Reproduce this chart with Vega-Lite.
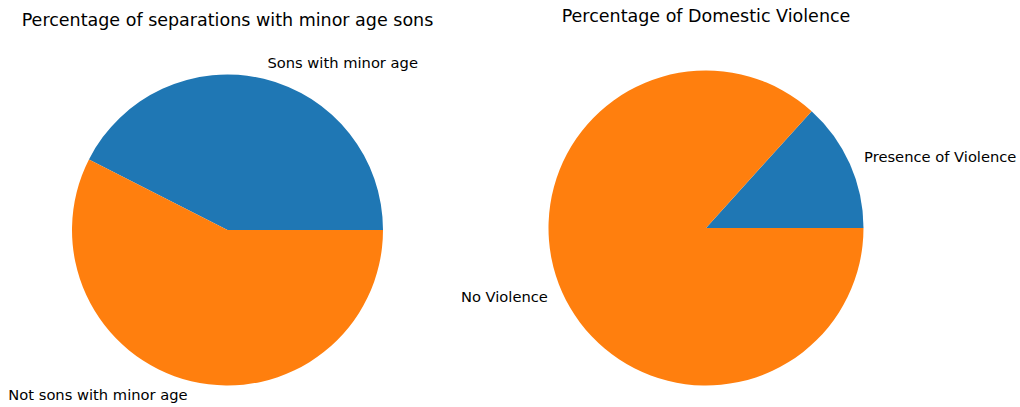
{
  "$schema": "https://vega.github.io/schema/vega-lite/v6.json",
  "autosize": {"type": "pad"},
  "padding": {"left": 8, "top": 7.5, "right": 3, "bottom": 3},
  "bounds": "flush",
  "spacing": 165.5,
  "config": {
    "view": {"stroke": null},
    "font": "DejaVu Sans",
    "title": {"fontSize": 17.5, "fontWeight": "normal", "color": "#000000", "baseline": "alphabetic", "font": "DejaVu Sans"},
    "text": {"font": "DejaVu Sans"}
  },
  "hconcat": [
    {
      "title": {"text": "Percentage of separations with minor age sons", "offset": 26},
      "width": 311,
      "height": 319,
      "data": {"values": [
        {"label": "Sons with minor age", "pct": 42.5, "side": "right", "ord": 2},
        {"label": "Not sons with minor age", "pct": 57.5, "side": "left", "ord": 1}
      ]},
      "encoding": {
        "theta": {"field": "pct", "type": "quantitative", "stack": true, "scale": {"range": [1.5707963, 7.8539816]}},
        "order": {"field": "ord", "type": "quantitative"}
      },
      "layer": [
        {"mark": {"type": "arc", "outerRadius": 155.5},
         "encoding": {"color": {"field": "side", "type": "nominal", "scale": {"domain": ["right", "left"], "range": ["#1f77b4", "#ff7f0e"]}, "legend": null}}},
        {"mark": {"type": "text", "radius": 171, "align": "left", "baseline": "middle", "fontSize": 14.7, "color": "#000000"},
         "encoding": {"text": {"condition": {"test": "datum.side == 'right'", "field": "label"}, "value": ""}}},
        {"mark": {"type": "text", "radius": 171, "align": "right", "baseline": "middle", "fontSize": 14.7, "color": "#000000"},
         "encoding": {"text": {"condition": {"test": "datum.side == 'left'", "field": "label"}, "value": ""}}}
      ]
    },
    {
      "title": {"text": "Percentage of Domestic Violence", "offset": 45},
      "width": 315,
      "height": 315,
      "data": {"values": [
        {"label": "Presence of Violence", "pct": 13.3, "side": "right", "ord": 2},
        {"label": "No Violence", "pct": 86.7, "side": "left", "ord": 1}
      ]},
      "encoding": {
        "theta": {"field": "pct", "type": "quantitative", "stack": true, "scale": {"range": [1.5707963, 7.8539816]}},
        "order": {"field": "ord", "type": "quantitative"}
      },
      "layer": [
        {"mark": {"type": "arc", "outerRadius": 157.5},
         "encoding": {"color": {"field": "side", "type": "nominal", "scale": {"domain": ["right", "left"], "range": ["#1f77b4", "#ff7f0e"]}, "legend": null}}},
        {"mark": {"type": "text", "radius": 173, "align": "left", "baseline": "middle", "fontSize": 14.7, "color": "#000000"},
         "encoding": {"text": {"condition": {"test": "datum.side == 'right'", "field": "label"}, "value": ""}}},
        {"mark": {"type": "text", "radius": 173, "align": "right", "baseline": "middle", "fontSize": 14.7, "color": "#000000"},
         "encoding": {"text": {"condition": {"test": "datum.side == 'left'", "field": "label"}, "value": ""}}}
      ]
    }
  ]
}
